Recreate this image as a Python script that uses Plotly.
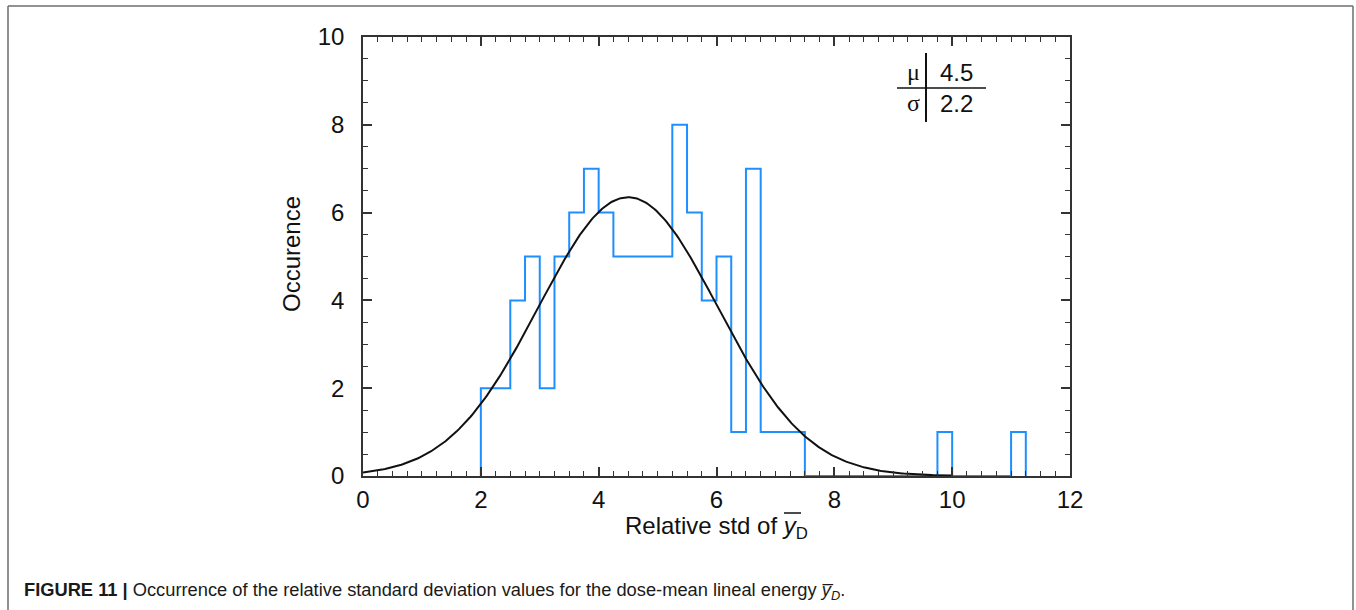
import numpy as np
import plotly.graph_objects as go

# ---- data ----
bin_left_start = 2.0
bin_width = 0.25
counts = [2, 2, 4, 5, 2, 5, 6, 7, 6, 5, 5, 5, 5, 8, 6, 4, 5, 1, 7, 1, 1, 1,
          0, 0, 0, 0, 0, 0, 0, 0, 0, 1, 0, 0, 0, 0, 1]
fit_mu = 4.5
fit_sigma = 1.52
fit_peak = 6.35
legend_mu = "4.5"
legend_sigma = "2.2"
x_ticks = [0, 2, 4, 6, 8, 10, 12]
y_ticks = [0, 2, 4, 6, 8, 10]

edges = [bin_left_start + i * bin_width for i in range(len(counts) + 1)]
step_x = [edges[0]] + edges
step_y = [0] + counts + [0]

gx = np.linspace(0, 10, 401)
gy = fit_peak * np.exp(-((gx - fit_mu) ** 2) / (2 * fit_sigma ** 2))

W, H = 1356, 610
L, R, T, B = 363, 1070, 37, 476


def px(x):
    return (x - L) / (R - L)


def py(y):
    return (B - y) / (B - T)


fig = go.Figure()
fig.add_trace(go.Scatter(x=step_x, y=step_y, mode="lines", line_shape="hv",
                         line=dict(color="#1f8fff", width=2), hoverinfo="skip"))
fig.add_trace(go.Scatter(x=gx, y=gy, mode="lines",
                         line=dict(color="#111111", width=2), hoverinfo="skip"))

axis_common = dict(showline=True, linecolor="#333333", linewidth=1.5, mirror="allticks",
                   ticks="inside", tickcolor="#333333", tickwidth=1.5, ticklen=9,
                   showgrid=False, zeroline=False,
                   tickfont=dict(family="Liberation Sans, Arial", size=24, color="#111111"))

fig.update_xaxes(range=[0, 12], tickvals=x_ticks, ticklabelstandoff=1,
                 minor=dict(dtick=0.25, ticks="inside", ticklen=5, tickcolor="#333333",
                            tickwidth=1.2, showgrid=False),
                 **axis_common)
fig.update_yaxes(range=[0, 10], tickvals=y_ticks, ticklabelstandoff=12,
                 minor=dict(dtick=0.5, ticks="inside", ticklen=5, tickcolor="#333333",
                            tickwidth=1.2, showgrid=False),
                 **axis_common)

shapes = []
# outer border of figure panel
border = dict(type="line", xref="paper", yref="paper", line=dict(color="#6e6e6e", width=1.5))
shapes.append({**border, "x0": px(8), "x1": px(8), "y0": py(6), "y1": py(620)})
shapes.append({**border, "x0": px(8), "x1": px(1353), "y0": py(6), "y1": py(6)})
shapes.append({**border, "x0": px(1353), "x1": px(1353), "y0": py(6), "y1": py(620)})
# legend table lines
tl = dict(type="line", xref="paper", yref="paper", line=dict(color="#111111", width=2))
shapes.append({**tl, "x0": px(926), "x1": px(926), "y0": py(53), "y1": py(122)})
shapes.append({**tl, "x0": px(897), "x1": px(986), "y0": py(88), "y1": py(88), "line": dict(color="#111111", width=1.5)})
# overline for y in axis title
shapes.append({**tl, "x0": px(784), "x1": px(801), "y0": py(513), "y1": py(513), "line": dict(color="#111111", width=1.5)})

ann = []
fnt = dict(family="Liberation Sans, Arial", size=24, color="#111111")
serif = dict(family="Liberation Serif, Times New Roman", size=24, color="#111111")
ann.append(dict(x=px(922), y=py(72), xref="paper", yref="paper", text="μ", showarrow=False,
                xanchor="right", yanchor="middle", font=serif))
ann.append(dict(x=px(922), y=py(103), xref="paper", yref="paper", text="σ", showarrow=False,
                xanchor="right", yanchor="middle", font=serif))
ann.append(dict(x=px(956), y=py(72), xref="paper", yref="paper", text=legend_mu, showarrow=False,
                xanchor="center", yanchor="middle", font=fnt))
ann.append(dict(x=px(956), y=py(104), xref="paper", yref="paper", text=legend_sigma, showarrow=False,
                xanchor="center", yanchor="middle", font=fnt))
ann.append(dict(x=px(292), y=py(254), xref="paper", yref="paper", text="Occurence", showarrow=False,
                textangle=-90, xanchor="center", yanchor="middle", font=fnt))
ann.append(dict(x=px(716), y=py(527), xref="paper", yref="paper",
                text="Relative std of <i>y</i><sub>D</sub>", showarrow=False,
                xanchor="center", yanchor="middle", font=fnt))
ann.append(dict(x=px(22), y=py(591), xref="paper", yref="paper",
                text="<b>FIGURE 11 |</b> Occurrence of the relative standard deviation values for the dose-mean lineal energy <i>y\u0305</i><sub><i>D</i></sub>.",
                showarrow=False, xanchor="left", yanchor="middle",
                font=dict(family="Liberation Sans, Arial", size=18.3, color="#1a1a1a")))

fig.update_layout(width=W, height=H, margin=dict(l=L, r=W - R, t=T, b=H - B, autoexpand=False),
                  paper_bgcolor="white", plot_bgcolor="white", showlegend=False,
                  shapes=shapes, annotations=ann)

fig.write_html("out.html", config={"displayModeBar": False},
               post_script="document.body.style.margin='0px';document.body.style.overflow='hidden';")
